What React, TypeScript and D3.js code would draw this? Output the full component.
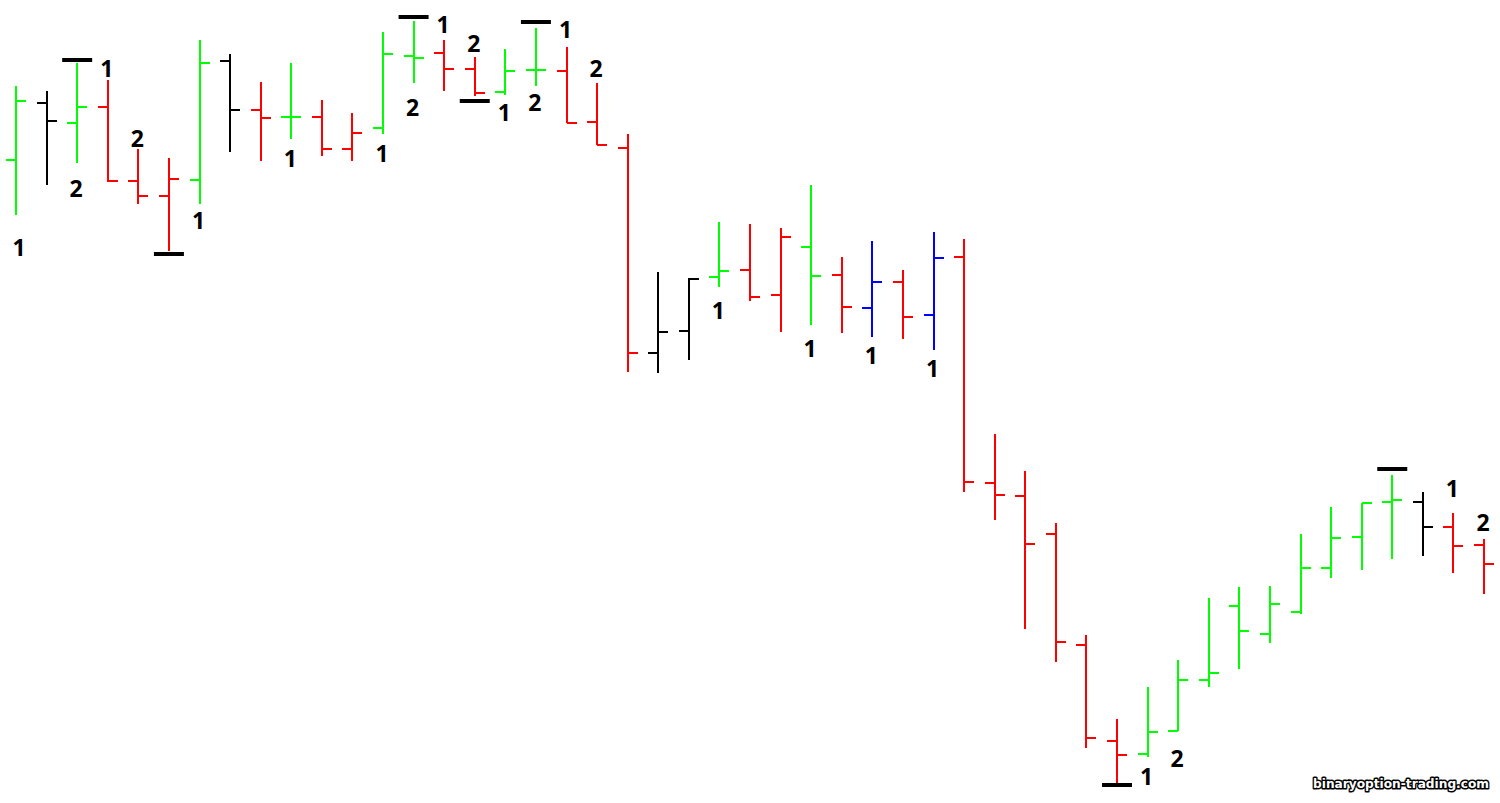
import React from "react";
import * as d3 from "d3";

// OHLC values (price units), one entry per bar
const opens = [840, 897, 877, 893, 819, 804, 820, 939, 890, 883, 883, 851, 872, 944, 947, 931, 908, 930, 929, 878, 852, 647, 669, 723, 730, 705, 753, 725, 692, 718, 685, 743, 517, 504, 466, 355, 259, 246, 269, 320, 394, 366, 388, 432, 463, 498, 498, 473, 455];
const highs = [914, 909, 937, 920, 851, 842, 960, 946, 918, 937, 900, 887, 968, 979, 960, 943, 951, 972, 953, 917, 866, 728, 722, 778, 776, 772, 815, 743, 759, 730, 768, 761, 566, 529, 477, 365, 281, 313, 340, 402, 413, 414, 466, 493, 497, 525, 508, 487, 461];
const lows = [785, 815, 837, 818, 796, 749, 796, 848, 839, 861, 844, 839, 866, 917, 909, 904, 905, 914, 877, 855, 628, 627, 640, 713, 699, 668, 675, 667, 663, 661, 650, 508, 480, 371, 338, 252, 217, 243, 269, 313, 331, 357, 386, 422, 430, 441, 444, 427, 406];
const closes = [899, 879, 893, 819, 804, 821, 937, 890, 882, 883, 851, 867, 946, 942, 931, 907, 929, 930, 877, 855, 647, 668, 721, 729, 703, 763, 724, 693, 718, 683, 742, 518, 505, 456, 358, 262, 245, 268, 320, 327, 369, 396, 432, 462, 497, 500, 473, 454, 436];
const barColors = ["g", "k", "g", "r", "r", "r", "g", "k", "r", "g", "r", "r", "g", "g", "r", "r", "g", "g", "r", "r", "r", "k", "k", "g", "r", "r", "g", "r", "b", "r", "b", "r", "r", "r", "r", "r", "r", "g", "g", "g", "g", "g", "g", "g", "g", "g", "k", "r", "r"];

// Annotations: bar number (1-based), text, price level
const labelBars = [1, 3, 4, 5, 7, 10, 13, 14, 15, 16, 17, 18, 19, 20, 24, 27, 29, 31, 38, 39, 48, 49];
const labelTexts = ["1", "2", "1", "2", "1", "1", "1", "2", "1", "2", "1", "2", "1", "2", "1", "1", "1", "1", "1", "2", "1", "2"];
const labelLevels = [753, 812, 932, 862, 780, 842, 847, 893, 976, 957, 888, 898, 971, 932, 690, 652, 645, 632, 224, 242, 512, 478];

// Extreme markers: bar number (1-based), price level
const markerBars = [3, 6, 14, 16, 18, 37, 46];
const markerLevels = [940, 746, 983, 899, 978, 215, 531];

const WIDTH = 1500;
const HEIGHT = 803;

const COLOR: Record<string, string> = {
  g: "#00ff00",
  r: "#ff0000",
  b: "#0000ff",
  k: "#000000",
};

export default function App() {
  const idx = d3.range(opens.length);
  const x = d3.scalePoint<number>().domain(idx).range([16, 1484]);
  const y = d3.scaleLinear().domain([1000 - HEIGHT, 1000]).range([HEIGHT, 0]);
  const tick = 10;

  return (
    <svg
      width={WIDTH}
      height={HEIGHT}
      style={{ position: "absolute", left: 0, top: 0, background: "#fff" }}
    >
      <rect width={WIDTH} height={HEIGHT} fill="#ffffff" />
      {idx.map((i) => {
        const cx = x(i)!;
        const c = COLOR[barColors[i]];
        return (
          <g key={i} stroke={c} strokeWidth={2} shapeRendering="crispEdges">
            <line x1={cx} x2={cx} y1={y(highs[i])} y2={y(lows[i])} />
            <line x1={cx - tick} x2={cx} y1={y(opens[i])} y2={y(opens[i])} />
            <line x1={cx} x2={cx + tick} y1={y(closes[i])} y2={y(closes[i])} />
          </g>
        );
      })}
      {markerBars.map((b, j) => {
        const cx = x(b - 1)!;
        return (
          <line
            key={"m" + j}
            x1={cx - 15}
            x2={cx + 15}
            y1={y(markerLevels[j])}
            y2={y(markerLevels[j])}
            stroke="#000"
            strokeWidth={4}
          />
        );
      })}
      {labelBars.map((b, j) => (
        <text
          key={"l" + j}
          x={x(b - 1)! + (b === 1 ? 3 : -1)}
          y={y(labelLevels[j])}
          textAnchor="middle"
          dominantBaseline="central"
          fontFamily="'Open Sans', sans-serif"
          fontWeight="bold"
          fontSize={23}
          fill="#000"
        >
          {labelTexts[j]}
        </text>
      ))}
      <text
        x={1313}
        y={788}
        fontFamily="'DejaVu Sans', sans-serif"
        fontWeight="bold"
        fontSize={13}
        textLength={176}
        lengthAdjust="spacingAndGlyphs"
        fill="#fff"
        stroke="#000"
        strokeWidth={3}
        strokeLinejoin="round"
        paintOrder="stroke"
      >
        binaryoption-trading.com
      </text>
    </svg>
  );
}
